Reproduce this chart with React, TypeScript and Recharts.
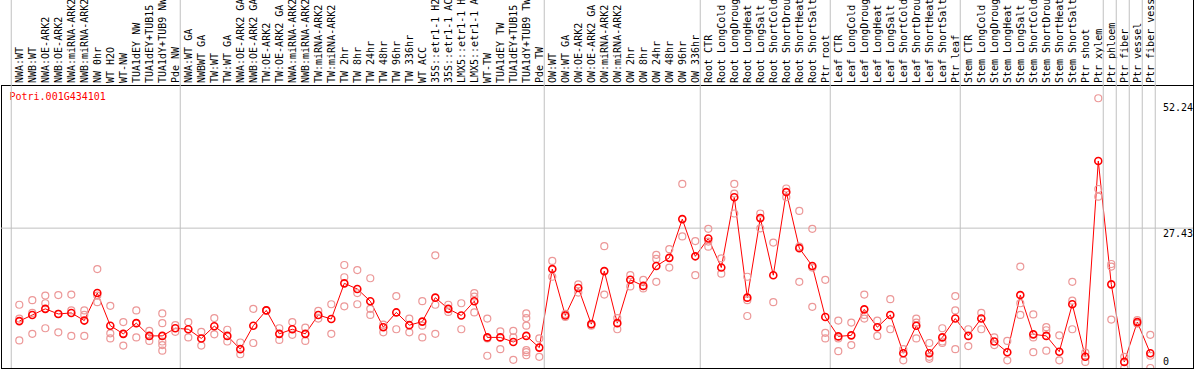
import { ComposedChart, Line, Scatter, XAxis, YAxis, ReferenceLine } from "recharts";

const categories = [
  "NWA:WT", "NWB:WT", "NWA:OE-ARK2", "NWB:OE-ARK2", "NWA:miRNA-ARK2", "NWB:miRNA-ARK2",
  "NW 0hr", "WT H2O", "WT-NW", "TUA1dEY NW", "TUA1dEY+TUB15 NW", "TUA1dY+TUB9 NW", "Pde NW",
  "NWA:WT GA", "NWBWT GA", "TW:WT", "TW:WT GA", "NWA:OE-ARK2 GA", "NWB:OE-ARK2 GA",
  "TW:OE-ARK2", "TW:OE-ARK2 GA", "NWA:miRNA-ARK2 GA", "NWB:miRNA-ARK2 GA", "TW:miRNA-ARK2",
  "TW:miRNA-ARK2 GA", "TW 2hr", "TW 8hr", "TW 24hr", "TW 48hr", "TW 96hr", "TW 336hr",
  "WT ACC", "35S::etr1-1 H2O", "35S::etr1-1 ACC", "LMX5::etr1-1 H2O", "LMX5::etr1-1 ACC",
  "WT-TW", "TUA1dEY TW", "TUA1dEY+TUB15 TW", "TUA1dY+TUB9 TW", "Pde TW",
  "OW:WT", "OW:WT GA", "OW:OE-ARK2", "OW:OE-ARK2 GA", "OW:miRNA-ARK2", "OW:miRNA-ARK2 GA",
  "OW 2hr", "OW 8hr", "OW 24hr", "OW 48hr", "OW 96hr", "OW 336hr",
  "Root CTR", "Root LongCold", "Root LongDrought", "Root LongHeat", "Root LongSalt",
  "Root ShortCold", "Root ShortDrought", "Root ShortHeat", "Root ShortSalt", "Ptr root",
  "Leaf CTR", "Leaf LongCold", "Leaf LongDrought", "Leaf LongHeat", "Leaf LongSalt",
  "Leaf ShortCold", "Leaf ShortDrought", "Leaf ShortHeat", "Leaf ShortSalt", "Ptr leaf",
  "Stem CTR", "Stem LongCold", "Stem LongDrought", "Stem LongHeat", "Stem LongSalt",
  "Stem ShortCold", "Stem ShortDrought", "Stem ShortHeat", "Stem ShortSalt", "Ptr shoot",
  "Ptr xylem", "Ptr phloem", "Ptr fiber", "Ptr vessel", "Ptr fiber vessel",
];

const means = [
  9.2, 10.4, 11.6, 10.6, 10.8, 9.3, 14.7, 8.3, 6.7, 8.8,
  6.3, 6.3, 7.8, 7.6, 5.8, 8.2, 6.3, 3.7, 8.3, 11.3,
  6.7, 7.6, 6.7, 10.4, 9.6, 16.6, 15.5, 13.1, 8.0, 10.9,
  8.4, 9.1, 13.8, 11.6, 10.3, 13.1, 6.0, 6.0, 5.1, 6.3,
  4.0, 19.4, 10.3, 15.7, 8.6, 19.0, 8.8, 17.3, 16.1, 20.0,
  21.6, 29.2, 21.9, 25.4, 19.7, 33.5, 13.8, 29.4, 18.2, 34.5,
  23.5, 20.0, 10.0, 6.2, 6.4, 11.5, 8.0, 10.4, 2.9, 8.3,
  2.9, 6.0, 9.7, 6.3, 9.7, 5.2, 3.1, 14.3, 6.6, 6.3,
  3.2, 12.5, 2.2, 40.6, 16.4, 1.2, 9.0, 2.9,
];

const replicates = [
  [12.4, 9.7, 5.4], [13.3, 10.8, 6.7], [14.2, 12.7, 7.8], [14.3, 10.6, 7.0], [14.4, 11.3, 6.3],
  [11.3, 10.4, 6.3], [19.4, 14.2, 12.9], [12.2, 6.8, 5.8], [9.0, 6.7, 4.4], [11.3, 8.8, 6.0],
  [7.3, 6.3, 5.3], [10.7, 8.8, 5.2, 4.5, 3.4], [8.4, 7.1], [9.0, 6.0], [7.1, 4.4],
  [9.8, 6.6], [7.5, 5.2], [5.0, 2.7], [11.6, 4.9], [11.3, 11.3],
  [7.8, 5.5], [9.0, 6.5], [7.9, 5.3], [11.2, 9.7], [12.5, 6.7],
  [20.2, 17.8, 12.1], [19.2, 14.7, 12.5], [17.6, 11.6, 10.4], [8.5, 7.0], [14.1, 7.6],
  [9.7, 7.0], [13.1, 8.3, 6.0], [22.1, 12.4, 6.7], [12.4, 11.0], [12.7, 7.6],
  [14.7, 14.0, 10.9], [9.7, 5.8, 2.4], [7.2, 3.7], [7.3, 6.0, 1.6], [10.7, 9.8, 8.3, 3.5, 3.1, 2.5],
  [5.8, 2.2], [21.0, 17.9], [10.6, 10.0], [16.4, 14.8], [8.6, 8.3],
  [23.9, 14.4], [9.8, 7.6], [18.2, 16.0], [17.3, 15.6], [22.2, 21.4, 16.9],
  [23.3, 19.7], [36.1, 25.8], [24.9, 18.2], [27.3, 24.8, 23.8], [21.5, 18.5],
  [36.1, 34.2, 30.3], [17.9, 13.3, 10.2], [30.3, 27.4], [24.6, 12.9], [35.2, 33.5],
  [30.8, 23.8, 16.9], [27.3, 19.7, 12.0], [17.3, 6.9, 5.8], [9.3, 5.8, 3.3], [8.9, 4.5],
  [14.4, 10.4, 9.7], [9.3, 6.3], [13.5, 7.6], [3.7, 1.5], [9.7, 8.9, 5.8],
  [4.9, 2.2, 1.8], [7.8, 5.2, 4.9], [14.1, 11.3, 3.7], [7.6, 4.3], [10.8, 7.6],
  [6.0, 4.5], [5.3, 1.5], [19.9, 12.7, 10.4], [10.5, 6.0, 3.1], [8.0, 7.4, 3.4],
  [6.4, 1.5], [16.9, 13.2, 7.6], [3.0, 1.2], [52.9, 35.1, 33.6], [20.4, 19.9, 9.5],
  [2.2, 0], [9.4, 8.7], [6.5, 2.4, 0],
];

const yTicks = [0, 27.43, 52.24];
// last category index of each group (0 = left edge)
const groupEnds = [0, 13, 41, 53, 63, 73, 84, 85, 86, 87, 88];

const lineData = means.map((m, i) => ({ x: i + 1, mean: m }));
const repData = replicates.flatMap((r, i) => r.map((v) => ({ x: i + 1, v })));
const sepTicks = groupEnds.map((e) => e + 0.38);
const xTicks = [...categories.map((_, i) => i + 1), ...sepTicks];

const MONO = "'DejaVu Sans Mono', monospace";
const X_DOMAIN: [number, number] = [-0.408, 91.285];

const XTick = (props: any) => {
  const { x, payload } = props;
  const v = payload.value;
  if (!Number.isInteger(v)) {
    return <line x1={x} x2={x} y1={0} y2={368} stroke="#c0c0c0" strokeWidth={1} />;
  }
  return (
    <text
      transform={`translate(${x + 3.5},83) rotate(-90)`}
      fontFamily={MONO}
      fontSize={10}
      fill="#000"
    >
      {categories[v - 1]}
    </text>
  );
};

const ValueTick = (props: any) => {
  const { y, payload } = props;
  return (
    <text x={1163} y={payload.value === 0 ? y - 3 : y + 9} fontFamily={MONO} fontSize={10} fill="#000">
      {payload.value}
    </text>
  );
};

const RepDot = (props: any) => (
  <circle cx={props.cx} cy={props.cy} r={3.5} fill="none" stroke="#ec9898" strokeWidth={1.2} />
);

export default function App() {
  return (
    <div style={{ position: "absolute", left: 0, top: 0, width: 1194, height: 370, background: "#fff" }}>
      <ComposedChart width={1194} height={370} margin={{ top: 0, right: 0, bottom: 2, left: 1 }}>
        <XAxis
          dataKey="x"
          type="number"
          orientation="top"
          domain={X_DOMAIN}
          allowDataOverflow
          ticks={xTicks}
          interval={0}
          height={85}
          axisLine={false}
          tickLine={false}
          tick={(p: any) => <XTick {...p} />}
        />
        <YAxis
          orientation="right"
          type="number"
          domain={[0, 55.5]}
          allowDataOverflow
          ticks={yTicks}
          interval={0}
          width={1}
          axisLine={false}
          tickLine={false}
          tick={(p: any) => <ValueTick {...p} />}
        />
        <ReferenceLine
          y={27.43}
          stroke="#c0c0c0"
          segment={[{ x: X_DOMAIN[0], y: 27.43 }, { x: 88.45, y: 27.43 }]}
        />
        <Scatter data={repData} dataKey="v" shape={(p: any) => <RepDot {...p} />} isAnimationActive={false} />
        <Line
          data={lineData}
          dataKey="mean"
          type="linear"
          stroke="#ff0000"
          strokeWidth={1}
          dot={{ r: 3.5, stroke: "#ff0000", strokeWidth: 1.6, fill: "none" }}
          isAnimationActive={false}
        />
        <rect x={1.5} y={85.5} width={1192} height={283} fill="none" stroke="#000" />
        <line x1={1193.5} x2={1193.5} y1={0} y2={86} stroke="#000" />
        <text x={9.5} y={100} fontFamily={MONO} fontSize={10} fill="#ff0000">
          Potri.001G434101
        </text>
      </ComposedChart>
    </div>
  );
}
